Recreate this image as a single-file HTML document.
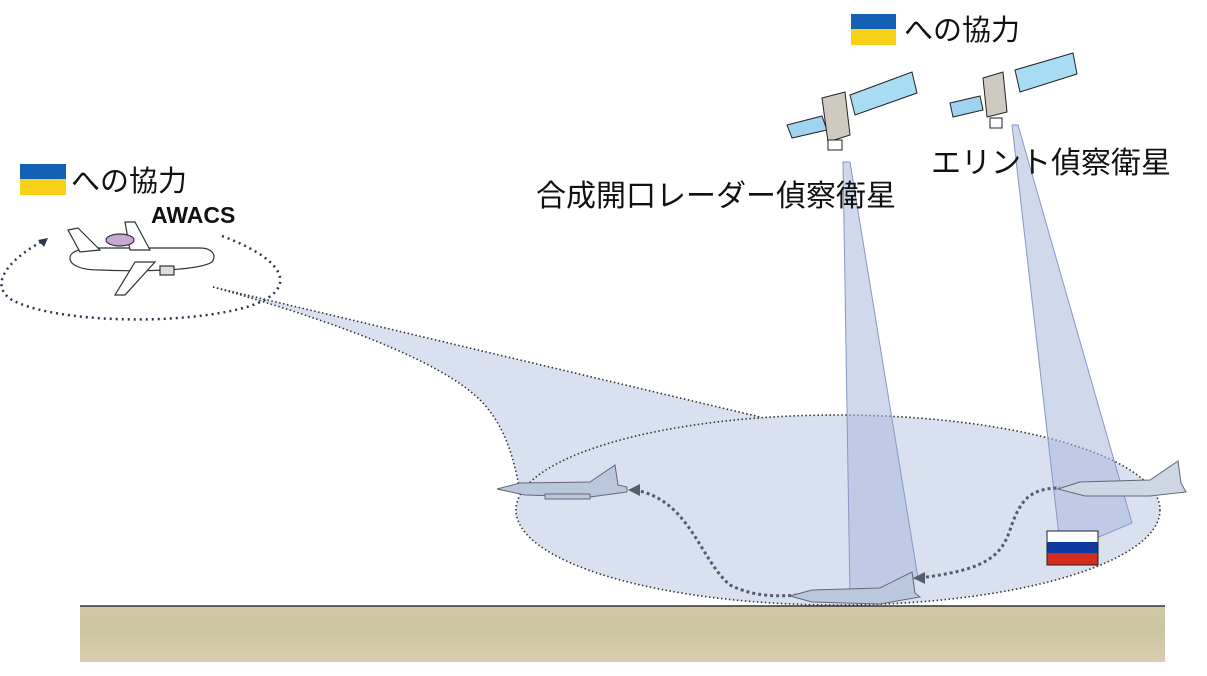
<!DOCTYPE html>
<html><head><meta charset="utf-8"><style>
html,body{margin:0;padding:0;background:#fff;width:1207px;height:676px;overflow:hidden}
svg{display:block}
text{font-family:"Liberation Sans","Noto Sans CJK JP",sans-serif;fill:#111}
</style></head><body>
<svg width="1207" height="676" viewBox="0 0 1207 676" xmlns="http://www.w3.org/2000/svg">
<defs>
<linearGradient id="g" x1="0" y1="0" x2="0" y2="1">
<stop offset="0" stop-color="#d4c9a6"/><stop offset="0.4" stop-color="#c9c4a0"/><stop offset="1" stop-color="#dccdb0"/></linearGradient>
</defs>
<rect x="80" y="606" width="1085" height="56" fill="url(#g)"/>
<line x1="80" y1="606" x2="1165" y2="606" stroke="#333" stroke-width="1.5"/>
<!-- coverage -->
<path d="M213,287 L760,417 L838,416 L838,560 L600,560 L520,490 C515,470 510,430 480,400 C440,360 330,320 213,287 Z" fill="#d9e1f1"/>
<ellipse cx="838" cy="510" rx="322" ry="95" fill="#d9e1f1"/>
<path d="M213,287 L760,417" stroke="#333" stroke-width="1.6" stroke-dasharray="1.5,2.5" fill="none"/>
<path d="M213,287 C330,320 440,360 480,400 C510,430 515,470 520,490" stroke="#333" stroke-width="1.6" stroke-dasharray="1.5,2.5" fill="none"/>
<ellipse cx="838" cy="510" rx="322" ry="95" fill="none" stroke="#333" stroke-width="1.6" stroke-dasharray="1.5,2.5"/>
<!-- beams -->
<polygon points="843,162 850,162 918,578 850,598" fill="#a9b8dd" fill-opacity="0.55" stroke="#8898c4" stroke-width="1"/>
<polygon points="1012,125 1018,125 1132,523 1061,553" fill="#a9b8dd" fill-opacity="0.55" stroke="#8898c4" stroke-width="1"/>
<!-- flight path -->
<path d="M635,490 C690,500 700,560 730,585 C760,600 790,595 800,595" stroke="#555c6a" stroke-width="3" stroke-dasharray="3,3" fill="none"/>
<polygon points="628,490 640,484 640,496" fill="#555c6a"/>
<path d="M920,578 C980,570 1000,560 1010,530 C1020,500 1030,488 1060,488" stroke="#555c6a" stroke-width="3" stroke-dasharray="3,3" fill="none"/>
<polygon points="913,578 925,572 925,584" fill="#555c6a"/>
<!-- jets -->
<g fill="#b9c8dc" stroke="#667" stroke-width="1">
<path d="M497,489 L520,483 L590,482 L615,465 L618,485 L627,487 L627,492 L590,497 L525,495 Z"/>
<rect x="545" y="494" width="45" height="5"/>
<path d="M790,596 L812,590 L880,588 L912,572 L915,593 L920,597 L880,604 L812,602 Z"/>
<path d="M1058,489 L1080,482 L1150,480 L1178,461 L1181,483 L1186,492 L1150,496 L1085,496 Z" fill="#cdd6e3"/>
</g>
<!-- russian flag -->
<rect x="1047" y="531" width="51" height="12" fill="#fff"/>
<rect x="1047" y="542" width="51" height="11" fill="#0a3aa0"/>
<rect x="1047" y="553" width="51" height="12" fill="#d52b1e"/>
<rect x="1047" y="531" width="51" height="34" fill="none" stroke="#222"/>
<!-- awacs orbit -->
<path d="M222,236 C300,265 300,300 220,313 C150,325 50,320 12,300 C-15,283 15,255 45,240" stroke="#2a3550" stroke-width="2.5" stroke-dasharray="2,4" fill="none"/>
<polygon points="48,238 38,240 44,247" fill="#2a3550"/>
<!-- awacs plane -->
<g stroke="#333" stroke-width="1.2" fill="#fff">
<path d="M70,258 C70,250 85,248 100,248 L200,248 C212,248 217,255 212,262 C200,270 150,272 100,270 C80,270 70,265 70,258 Z"/>
<path d="M68,230 L78,228 L100,250 L80,252 Z"/>
<path d="M135,262 L155,262 L125,295 L115,295 Z"/>
<path d="M130,250 L125,222 L135,222 L150,250 Z"/>
<ellipse cx="120" cy="240" rx="14" ry="6" fill="#c9a8d4"/>
<rect x="160" y="266" width="14" height="9" fill="#ddd"/>
</g>
<!-- satellites -->
<g stroke="#222" stroke-width="1">
<polygon points="787,125 822,116 827,130 792,138" fill="#9fd3ef"/>
<polygon points="850,95 912,72 917,93 855,115" fill="#a8dcf3"/>
<polygon points="822,98 845,92 850,135 828,142" fill="#cfcac0"/>
<rect x="828" y="140" width="14" height="10" fill="#fff"/>
<polygon points="950,103 980,96 983,110 953,117" fill="#9fd3ef"/>
<polygon points="1015,70 1073,53 1077,74 1020,92" fill="#a8dcf3"/>
<polygon points="983,78 1003,72 1007,112 987,117" fill="#cfcac0"/>
<rect x="990" y="118" width="12" height="10" fill="#fff"/>
</g>
<!-- ukraine flags -->
<rect x="851" y="14" width="45" height="15" fill="#1460b4"/>
<rect x="851" y="29" width="45" height="16" fill="#f7d117"/>
<rect x="20" y="164" width="46" height="15" fill="#1460b4"/>
<rect x="20" y="179" width="46" height="16" fill="#f7d117"/>
<!-- labels -->
<text x="904" y="40" font-size="29">への協力</text>
<text x="71" y="191" font-size="29">への協力</text>
<text x="151" y="223" font-size="23" font-weight="bold">AWACS</text>
<text x="536" y="206" font-size="30">合成開口レーダー偵察衛星</text>
<text x="931" y="173" font-size="30">エリント偵察衛星</text>
</svg>
</body></html>
